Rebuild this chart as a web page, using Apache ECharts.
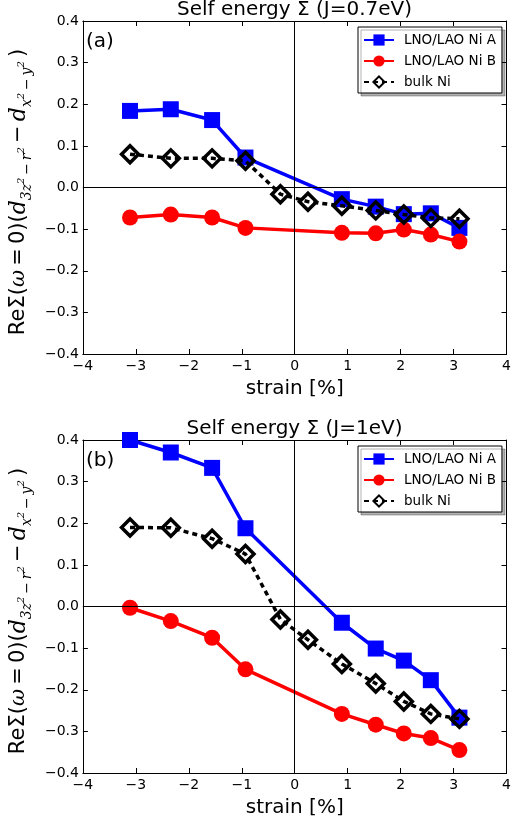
<!DOCTYPE html>
<html>
<head>
<meta charset="utf-8">
<script src="https://cdn.jsdelivr.net/npm/echarts@6/dist/echarts.min.js"></script>
<style>html,body{margin:0;padding:0;background:#fff}#c{width:514px;height:825px}</style>
</head>
<body>
<div id="c"></div>
<script>
// ---- data ----
const strainAB = [-3.11, -2.34, -1.56, -0.93, 0.89, 1.53, 2.06, 2.57, 3.11];
const strainBulk = [-3.11, -2.34, -1.56, -0.93, -0.27, 0.25, 0.89, 1.53, 2.06, 2.57, 3.11];

const aNiA = [0.184, 0.188, 0.162, 0.072, -0.028, -0.046, -0.064, -0.062, -0.097];
const aNiB = [-0.072, -0.065, -0.072, -0.097, -0.109, -0.110, -0.101, -0.113, -0.130];
const aBulk = [0.080, 0.070, 0.070, 0.064, -0.016, -0.034, -0.044, -0.055, -0.065, -0.073, -0.075];

const bNiA = [0.400, 0.370, 0.333, 0.188, -0.039, -0.101, -0.130, -0.177, -0.267];
const bNiB = [-0.003, -0.035, -0.075, -0.151, -0.258, -0.284, -0.305, -0.316, -0.345];
const bBulk = [0.190, 0.189, 0.163, 0.126, -0.031, -0.080, -0.138, -0.185, -0.228, -0.258, -0.270];

const titles = ['Self energy \u03A3 (J=0.7eV)', 'Self energy \u03A3 (J=1eV)'];
const panelLabels = ['(a)', '(b)'];
const seriesNames = ['LNO/LAO Ni A', 'LNO/LAO Ni B', 'bulk Ni'];
const xTicks = [-4, -3, -2, -1, 0, 1, 2, 3, 4];
const yTicks = [-0.4, -0.3, -0.2, -0.1, 0.0, 0.1, 0.2, 0.3, 0.4];

// ---- chart ----
const FONT = 'DejaVu Sans';
const zip = (xs, ys) => xs.map((x, i) => [x, ys[i]]);
const minus = s => s.replace('-', '\u2212');

const grids = [
  {left: 80, top: 21, width: 429, height: 333},
  {left: 80, top: 440, width: 429, height: 333}
];

const T = '\u2009';
const yName = '{n|Re\u03A3(}{w|\u03C9}{n|' + T + '=' + T + '0)(}{d|d}{s|3z}{p|2}{s|' + T + '\u2212' + T + 'r}{p|2}{n|' + T + '\u2212' + T + '}{d|d}{s|x}{p|2}{s|' + T + '\u2212' + T + 'y}{p|2}{n|' + T + ')}';
const yNameRich = {
  n: {fontFamily: FONT, fontSize: 21, color: '#000', lineHeight: 30, verticalAlign: 'middle'},
  w: {fontFamily: 'DejaVu Serif', fontStyle: 'italic', fontSize: 21, color: '#000', lineHeight: 30, verticalAlign: 'middle'},
  d: {fontFamily: 'DejaVu Serif', fontStyle: 'italic', fontSize: 22, color: '#000', lineHeight: 30, verticalAlign: 'middle'},
  s: {fontFamily: 'DejaVu Serif', fontStyle: 'italic', fontSize: 14, color: '#000', verticalAlign: 'bottom'},
  p: {fontFamily: 'DejaVu Serif', fontStyle: 'italic', fontSize: 10, color: '#000', verticalAlign: 'bottom', padding: [0, 0, 8, 0]}
};

const xAxes = [], yAxes = [];
[0, 1].forEach(g => {
  xAxes.push({
    type: 'value', gridIndex: g, min: -4, max: 4, interval: 1, position: 'bottom',
    axisLine: {onZero: false, lineStyle: {color: '#000', width: 1}},
    axisTick: {inside: true, length: 5, lineStyle: {color: '#000'}},
    axisLabel: {fontFamily: FONT, fontSize: 14, color: '#000', margin: 5, formatter: v => minus(String(v))},
    splitLine: {show: false},
    name: 'strain [%]', nameLocation: 'middle', nameGap: 25,
    nameTextStyle: {fontFamily: FONT, fontSize: 20, color: '#000'}
  });
  yAxes.push({
    type: 'value', gridIndex: g, min: -0.4, max: 0.4, interval: 0.1, position: 'left',
    axisLine: {onZero: false, lineStyle: {color: '#000', width: 1}},
    axisTick: {inside: true, length: 5, lineStyle: {color: '#000'}},
    axisLabel: {fontFamily: FONT, fontSize: 14, color: '#000', margin: 4,
      formatter: v => minus((Math.round(v * 10) / 10).toFixed(1))},
    splitLine: {show: false},
    name: yName, nameLocation: 'middle', nameGap: 42, nameRotate: 90,
    nameTextStyle: {rich: yNameRich, padding: [0, 9, 0, 0]}
  });
});
[0, 1].forEach(g => {
  xAxes.push({
    type: 'value', gridIndex: g, min: -4, max: 4, interval: 1, position: 'top',
    axisLine: {onZero: false, lineStyle: {color: '#000', width: 1}},
    axisTick: {inside: true, length: 5, lineStyle: {color: '#000'}},
    axisLabel: {show: false}, splitLine: {show: false}
  });
  yAxes.push({
    type: 'value', gridIndex: g, min: -0.4, max: 0.4, interval: 0.1, position: 'right',
    axisLine: {onZero: false, lineStyle: {color: '#000', width: 1}},
    axisTick: {inside: true, length: 5, lineStyle: {color: '#000'}},
    axisLabel: {show: false}, splitLine: {show: false}
  });
});

function panelSeries(g, A, B, K) {
  return [
    {
      name: seriesNames[0], type: 'line', xAxisIndex: g, yAxisIndex: g,
      data: zip(strainAB, A), symbol: 'rect', symbolSize: 16,
      lineStyle: {color: '#0000ff', width: 3.5}, itemStyle: {color: '#0000ff'},
      z: 2, animation: false,
      markLine: {
        silent: true, symbol: 'none', label: {show: false}, animation: false,
        lineStyle: {color: '#000', width: 1, type: 'solid'},
        emphasis: {disabled: true},
        data: [{xAxis: 0}, {yAxis: 0}]
      }
    },
    {
      name: seriesNames[1], type: 'line', xAxisIndex: g, yAxisIndex: g,
      data: zip(strainAB, B), symbol: 'circle', symbolSize: 16,
      lineStyle: {color: '#ff0000', width: 3.5}, itemStyle: {color: '#ff0000'},
      z: 3, animation: false
    },
    {
      name: seriesNames[2], type: 'line', xAxisIndex: g, yAxisIndex: g,
      data: zip(strainBulk, K), symbol: 'diamond', symbolSize: 17,
      lineStyle: {color: '#000', width: 3.5, type: [5, 4]},
      itemStyle: {color: 'rgba(0,0,0,0)', borderColor: '#000', borderWidth: 3.5},
      z: 4, animation: false
    }
  ];
}

const legendCommon = {
  orient: 'vertical', left: 358, itemWidth: 30, itemHeight: 14, itemGap: 7,
  padding: [6, 6, 4, 5], backgroundColor: '#fff', borderColor: '#000', borderWidth: 1,
  shadowColor: 'rgba(0,0,0,0.3)', shadowBlur: 0, shadowOffsetX: 3, shadowOffsetY: 3,
  textStyle: {fontFamily: FONT, fontSize: 13.5, color: '#000', padding: [0, 0, 0, 5]},
  selectedMode: false, data: seriesNames
};

const option = {
  animation: false,
  backgroundColor: '#fff',
  title: [
    {text: titles[0], left: 294.5, textAlign: 'center', top: 0, padding: 0,
      textStyle: {fontFamily: FONT, fontSize: 20, fontWeight: 'normal', color: '#000'}},
    {text: titles[1], left: 294.5, textAlign: 'center', top: 419, padding: 0,
      textStyle: {fontFamily: FONT, fontSize: 20, fontWeight: 'normal', color: '#000'}},
    {text: panelLabels[0], left: 86, top: 32, padding: 0,
      textStyle: {fontFamily: FONT, fontSize: 20, fontWeight: 'normal', color: '#000'}},
    {text: panelLabels[1], left: 86, top: 451, padding: 0,
      textStyle: {fontFamily: FONT, fontSize: 20, fontWeight: 'normal', color: '#000'}}
  ],
  legend: [
    Object.assign({}, legendCommon, {top: 27}),
    Object.assign({}, legendCommon, {top: 446})
  ],
  grid: grids,
  xAxis: xAxes,
  yAxis: yAxes,
  series: [].concat(panelSeries(0, aNiA, aNiB, aBulk), panelSeries(1, bNiA, bNiB, bBulk))
};

const chart = echarts.init(document.getElementById('c'), null, {renderer: 'canvas'});
chart.setOption(option);
</script>
</body>
</html>
